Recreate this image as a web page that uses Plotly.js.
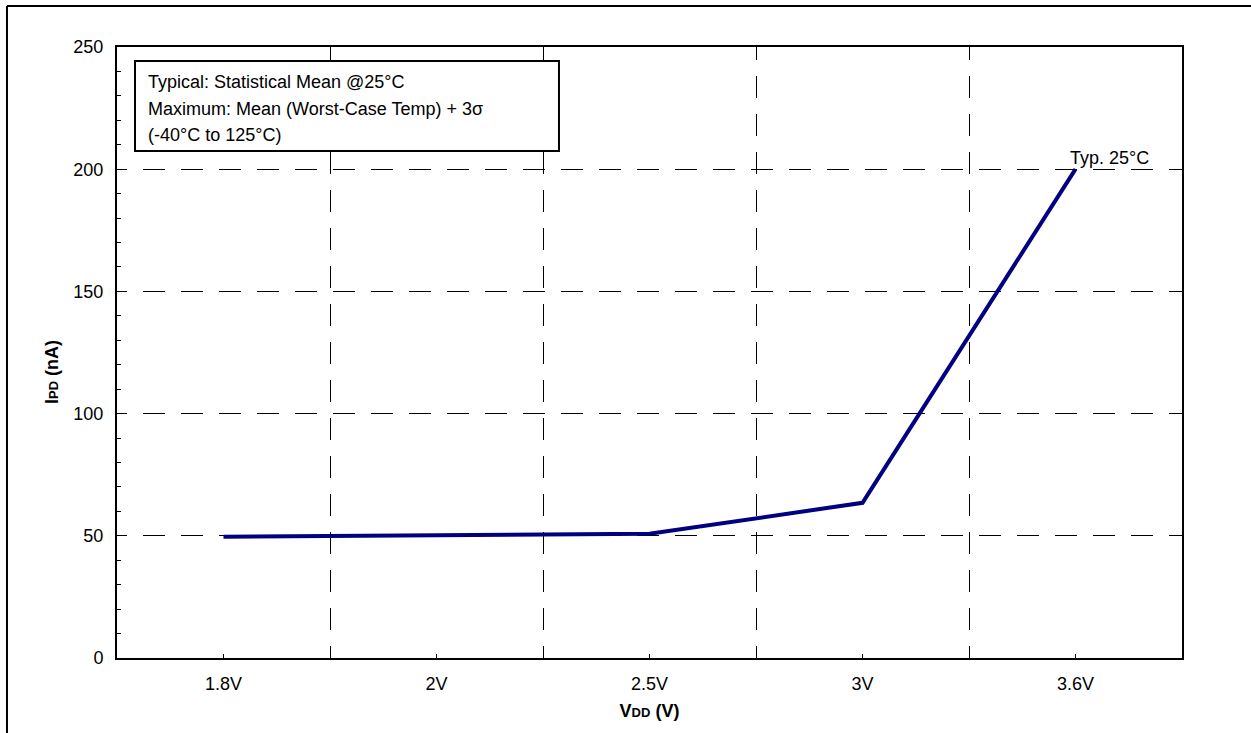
<!DOCTYPE html>
<html>
<head>
<meta charset="utf-8">
<script src="https://cdn.plot.ly/plotly-3.0.1.min.js"></script>
<style>
  html, body { margin: 0; padding: 0; background: #ffffff; }
  #chart { width: 1251px; height: 733px; }
</style>
</head>
<body>
<div id="chart"></div>
<script>
// ---- data ----
const categories = ['1.8V', '2V', '2.5V', '3V', '3.6V'];
const ipdTyp25 = [49.6, 50.2, 50.8, 63.5, 200];
const yTickVals = [0, 50, 100, 150, 200, 250];
const seriesLabel = 'Typ. 25°C';
const noteLines = [
  'Typical: Statistical Mean @25°C',
  'Maximum: Mean (Worst-Case Temp) + 3σ',
  '(-40°C to 125°C)'
];

// ---- styling ----
const FONT = 'Arial, "Liberation Sans", Helvetica, sans-serif';
const FS = 18;
function dashList(first, n) {
  const a = [first + 'px', '16px'];
  for (let i = 0; i < n; i++) { a.push('22px', '16px'); }
  return a.join(',');
}
const hDash = dashList(10, 30);
const vDash = dashList(13, 18);

const xIdx = categories.map((c, i) => i);

const trace = {
  x: xIdx,
  y: ipdTyp25,
  type: 'scatter',
  mode: 'lines',
  name: seriesLabel,
  line: { color: '#000080', width: 4 },
  hoverinfo: 'x+y'
};

const annotations = [
  {
    x: xIdx[xIdx.length - 1], y: ipdTyp25[ipdTyp25.length - 1],
    xref: 'x', yref: 'y',
    text: seriesLabel, showarrow: false,
    xanchor: 'left', yanchor: 'bottom', xshift: -8, yshift: -1,
    font: { family: FONT, size: FS, color: '#000000' }
  },
  {
    x: -0.0615, y: 0.5, xref: 'paper', yref: 'paper',
    text: '<b>I<span style="font-size:13px">PD</span> (nA)</b>',
    textangle: -90, showarrow: false, xanchor: 'center', yanchor: 'middle', yshift: -20,
    font: { family: FONT, size: FS, color: '#000000' }
  }
];
const lineY = [0.9427, 0.8985, 0.8560];
noteLines.forEach((t, i) => {
  annotations.push({
    x: 0.0291, y: lineY[i], xref: 'paper', yref: 'paper',
    text: t, showarrow: false, xanchor: 'left', yanchor: 'middle', xshift: -2,
    font: { family: FONT, size: FS, color: '#000000' }
  });
});

const layout = {
  width: 1251, height: 733,
  margin: { l: 117, r: 69, t: 47, b: 75 },
  paper_bgcolor: '#ffffff', plot_bgcolor: '#ffffff',
  showlegend: false,
  font: { family: FONT, size: FS, color: '#000000' },
  xaxis: {
    type: 'linear',
    range: [-0.5, 4.5],
    tickmode: 'array', tickvals: xIdx, ticktext: categories,
    ticks: 'inside', ticklen: 4, tickwidth: 1, tickcolor: '#000000',
    showgrid: false, zeroline: false,
    showline: true, mirror: true, linecolor: '#000000', linewidth: 2,
    ticklabelstandoff: 8,
    tickfont: { family: FONT, size: FS, color: '#000000' },
    minor: {
      tick0: 0.5, dtick: 1, ticks: '',
      showgrid: true, gridcolor: '#000000', gridwidth: 1, griddash: vDash
    },
    title: {
      text: '<b>V<span style="font-size:13px">DD</span> (V)</b>',
      font: { family: FONT, size: FS, color: '#000000' },
      standoff: 12
    }
  },
  yaxis: {
    range: [0, 250],
    tickmode: 'array', tickvals: yTickVals,
    ticks: 'inside', ticklen: 10, tickwidth: 1, tickcolor: '#000000',
    showgrid: true, gridcolor: '#000000', gridwidth: 1, griddash: hDash,
    zeroline: false,
    showline: true, mirror: true, linecolor: '#000000', linewidth: 2,
    ticklabelstandoff: 8,
    tickfont: { family: FONT, size: FS, color: '#000000' },
    minor: {
      dtick: 10, ticks: 'inside', ticklen: 4, tickwidth: 1, tickcolor: '#000000', showgrid: false
    }
  },
  shapes: [
    { type: 'rect', xref: 'paper', yref: 'paper', x0: 0.0169, x1: 0.415, y0: 0.8298, y1: 0.9771,
      line: { color: '#000000', width: 2 }, fillcolor: '#ffffff', layer: 'above' },
    { type: 'line', xref: 'paper', yref: 'paper', x0: -0.1033, x1: -0.1033, y0: 1.0671, y1: -0.2,
      line: { color: '#000000', width: 2 } },
    { type: 'line', xref: 'paper', yref: 'paper', x0: -0.1033, x1: 1.1, y0: 1.0671, y1: 1.0671,
      line: { color: '#000000', width: 2 } }
  ],
  annotations: annotations
};

Plotly.newPlot('chart', [trace], layout, { displayModeBar: false, staticPlot: true });
</script>
</body>
</html>
